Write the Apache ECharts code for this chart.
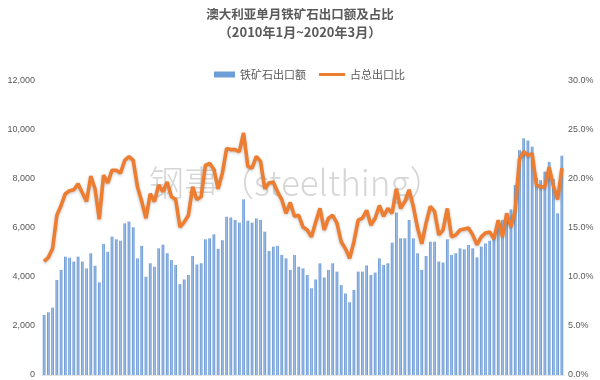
<!DOCTYPE html>
<html><head><meta charset="utf-8">
<script src="https://cdn.jsdelivr.net/npm/echarts@6/dist/echarts.min.js"></script>
<style>html,body{margin:0;padding:0;background:#fff}#c{width:600px;height:380px}</style>
</head><body><div id="c"></div>
<script>
// Monthly exports, Jan 2010 – Mar 2020 (百万澳元) and share of total exports (%)
var exportValue = [
2450,2560,2750,3880,4290,4830,4790,4630,4830,4630,4350,4970,
4460,3780,5350,5030,5650,5540,5480,6190,6260,6030,4760,5270,
4010,4560,4420,5170,5320,4970,4690,4490,3710,3900,4080,4860,
4510,4560,5540,5580,5740,5150,5500,6460,6430,6330,6220,7170,
6300,6220,6390,6330,5850,5060,5240,5270,4900,4760,4290,4900,
4420,4350,4080,3540,3900,4560,3980,4290,4560,4220,3670,3330,
2970,3470,4220,4220,4470,4080,4180,4760,4490,4560,5400,6630,
5580,5580,6330,5580,4970,4290,4860,5440,5440,4630,4590,5540,
4900,4970,5170,5130,5310,5170,4800,5240,5370,5480,5650,6120,
6330,6330,6760,7750,9180,9660,9570,9320,8050,7950,8300,8700,
8000,6600,8950];
var sharePct = [
11.6,12.0,12.9,16.3,17.3,18.5,18.8,18.9,19.5,18.6,17.7,20.3,
19.0,15.9,20.4,19.6,20.9,20.9,20.6,21.9,22.3,21.9,19.2,17.7,
16.0,18.5,17.7,19.4,18.7,19.7,18.2,17.9,15.1,15.6,16.3,19.2,
17.9,18.2,21.4,21.6,21.0,19.0,20.6,23.1,23.0,23.0,22.8,24.7,
21.3,21.1,22.3,21.8,19.0,19.6,19.7,18.7,17.9,16.5,17.6,16.2,
16.3,15.1,14.8,14.1,15.6,17.0,14.8,16.0,16.3,15.5,13.6,12.9,
11.9,13.6,15.8,16.0,16.8,15.3,16.0,17.3,16.2,17.0,16.5,19.0,
17.0,17.7,18.9,17.2,15.0,13.4,15.5,17.2,16.7,14.3,14.8,17.0,
14.1,14.3,14.8,14.9,15.0,14.3,13.3,14.1,14.5,14.6,13.9,15.8,
14.1,16.5,15.1,16.8,22.0,22.8,22.4,22.6,19.4,19.2,19.2,21.2,
19.3,17.9,21.1];
var leftTicks = {min:0, max:12000, interval:2000};
var rightTicks = {min:0, max:30, interval:5};
var categories = [];
for (var y = 2010; y <= 2020; y++) {
  for (var m = 1; m <= 12; m++) {
    if (y === 2020 && m > 3) break;
    categories.push(y + '年' + m + '月');
  }
}
var txt = '#595959';
var legendText = {fontSize: 11, color: txt, fontFamily: 'Noto Sans CJK SC'};
var chart = echarts.init(document.getElementById('c'));
chart.setOption({
  animation: false,
  title: {
    text: '澳大利亚单月铁矿石出口额及占比',
    subtext: '（2010年1月~2020年3月）',
    left: 'center', top: 3, itemGap: 5,
    textStyle: {fontSize: 12.5, fontWeight: 'bold', color: txt, fontFamily: 'Noto Sans CJK SC'},
    subtextStyle: {fontSize: 13, fontWeight: 'bold', color: txt, fontFamily: 'Noto Sans CJK SC'}
  },
  legend: [{
    top: 64, left: 209, itemWidth: 21, itemHeight: 6, itemGap: 4,
    textStyle: legendText,
    data: [{name: '铁矿石出口额', icon: 'rect', itemStyle: {color: '#6d9dd6'}}]
  }, {
    top: 64, left: 314, itemWidth: 26, itemHeight: 3,
    textStyle: legendText,
    data: [{name: '占总出口比', icon: 'rect', itemStyle: {color: '#ED7D31'}}]
  }],
  grid: {left: 42, right: 36, top: 81, bottom: 5, containLabel: false},
  xAxis: {
    type: 'category', data: categories, boundaryGap: true,
    axisLine: {show: true, lineStyle: {color: '#e3e3e3'}},
    axisTick: {show: false}, axisLabel: {show: false}, splitLine: {show: false}
  },
  yAxis: [{
    type: 'value', min: leftTicks.min, max: leftTicks.max, interval: leftTicks.interval,
    axisLine: {show: false}, axisTick: {show: false}, splitLine: {show: false},
    axisLabel: {fontSize: 9, color: txt, margin: 7, fontFamily: 'Liberation Sans',
      formatter: function (v) { return v.toLocaleString('en-US'); }}
  }, {
    type: 'value', min: rightTicks.min, max: rightTicks.max, interval: rightTicks.interval,
    axisLine: {show: false}, axisTick: {show: false}, splitLine: {show: false},
    axisLabel: {fontSize: 9, color: txt, margin: 4, fontFamily: 'Liberation Sans',
      formatter: function (v) { return v.toFixed(1) + '%'; }}
  }],
  graphic: [{
    type: 'text', left: 149, top: 165, z: 0, silent: true,
    style: {text: '钢事（steelthing）', fontSize: 35, fill: 'rgba(165,165,165,0.45)',
      fontFamily: 'Noto Sans CJK SC', fontWeight: 300}
  }],
  series: [{
    name: '铁矿石出口额', type: 'bar', yAxisIndex: 0, data: exportValue,
    barCategoryGap: '36%',
    itemStyle: {color: new echarts.graphic.LinearGradient(0, 0, 1, 0, [
      {offset: 0, color: '#5b8fcf'}, {offset: 0.5, color: '#9dbde6'}, {offset: 1, color: '#5b8fcf'}])}
  }, {
    name: '占总出口比', type: 'line', yAxisIndex: 1, data: sharePct,
    symbol: 'none', smooth: false, z: 5,
    lineStyle: {color: '#ED7D31', width: 3.6, shadowColor: 'rgba(0,0,0,0.25)', shadowBlur: 3, shadowOffsetY: 1},
    itemStyle: {color: '#ED7D31'}
  }]
});
</script></body></html>
